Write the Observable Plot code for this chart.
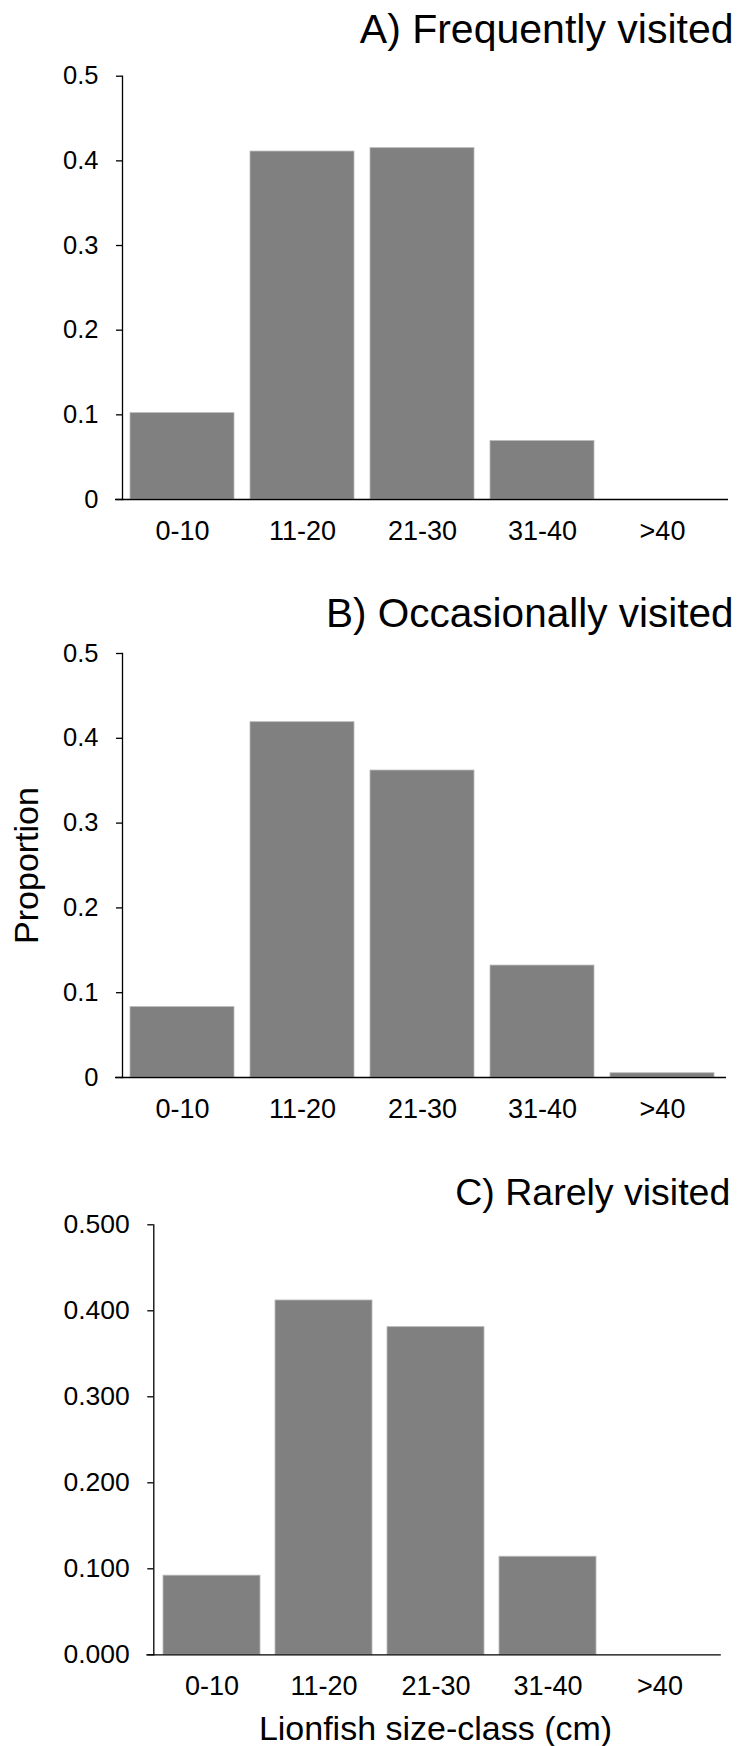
<!DOCTYPE html>
<html>
<head>
<meta charset="utf-8">
<script src="https://cdn.jsdelivr.net/npm/d3@7"></script>
<script src="https://cdn.jsdelivr.net/npm/@observablehq/plot@0.6"></script>
<style>
  html, body { margin: 0; padding: 0; background: #fff; }
  #wrap { position: relative; width: 742px; height: 1746px; background: #fff; }
  .panel { position: absolute; left: 0; }
</style>
</head>
<body>
<div id="wrap"></div>
<script>
// ---- data ----
const sizeClasses = ["0-10", "11-20", "21-30", "31-40", ">40"];
const frequentlyVisited = [0.102, 0.411, 0.415, 0.069, 0];
const occasionallyVisited = [0.083, 0.419, 0.362, 0.132, 0.005];
const rarelyVisited = [0.092, 0.412, 0.381, 0.114, 0];
const panelTitles = ["A) Frequently visited", "B) Occasionally visited", "C) Rarely visited"];
const yTicks = [0, 0.1, 0.2, 0.3, 0.4, 0.5];
const yLabel = "Proportion";
const xLabel = "Lionfish size-class (cm)";

// ---- layout ----
const FONT = "'Liberation Sans', Arial, Helvetica, sans-serif";
const panels = [
  {values: frequentlyVisited, title: panelTitles[0], top: 0, height: 560, mt: 75.7, mb: 61, ml: 122, mr: 20,
   fmt: d => String(d), yFont: 25.5, titleFont: 41, titleDy: -33, titleDx: 11, yLab: false, xLab: false, ir: -6},
  {values: occasionallyVisited, title: panelTitles[1], top: 560, height: 580, mt: 93, mb: 63, ml: 122, mr: 20,
   fmt: d => String(d), yFont: 25.5, titleFont: 40.5, titleDy: -27, titleDx: 11, yLab: true, xLab: false, ir: -4},
  {values: rarelyVisited, title: panelTitles[2], top: 1140, height: 606, mt: 84.3, mb: 91.7, ml: 153.3, mr: 25.2,
   fmt: d => d.toFixed(3), yFont: 26.5, titleFont: 37.5, titleDy: -19.5, titleDx: 13, yLab: false, xLab: true, ir: -4}
];

const wrap = document.getElementById("wrap");
for (const p of panels) {
  const data = sizeClasses.map((c, i) => ({size: c, value: p.values[i]}));
  const marks = [
    Plot.barY(data, {x: "size", y: "value", fill: "#808080", stroke: "#b8b8b8", strokeWidth: 0.8}),
    Plot.ruleY([0], {stroke: "black", strokeWidth: 1.3, insetLeft: -7, insetRight: p.ir}),
    Plot.frame({anchor: "left", stroke: "black", strokeWidth: 1.3}),
    Plot.axisY({ticks: yTicks, tickFormat: p.fmt, tickSize: 6, tickPadding: 18, fontSize: p.yFont, label: null, stroke: "black", strokeWidth: 1.3}),
    Plot.axisX({tickSize: 0, tickPadding: 21, fontSize: 27, label: null}),
    Plot.text([p.title], {frameAnchor: "top-right", textAnchor: "end", lineAnchor: "bottom", dx: p.titleDx, dy: p.titleDy, fontSize: p.titleFont, fill: "black"})
  ];
  if (p.yLab) marks.push(Plot.text([yLabel], {frameAnchor: "left", rotate: -90, dx: -95, textAnchor: "middle", lineAnchor: "middle", fontSize: 34, fill: "black"}));
  if (p.xLab) marks.push(Plot.text([xLabel], {frameAnchor: "bottom", textAnchor: "middle", lineAnchor: "bottom", dy: 84.7, fontSize: 34, fill: "black"}));

  const chart = Plot.plot({
    width: 742,
    height: p.height,
    marginTop: p.mt,
    marginBottom: p.mb,
    marginLeft: p.ml,
    marginRight: p.mr,
    style: {fontFamily: FONT, background: "white", color: "black", overflow: "visible"},
    x: {type: "band", domain: sizeClasses, paddingInner: 0.135, paddingOuter: 0.0675, align: 0.5},
    y: {domain: [0, 0.5]},
    marks
  });
  const div = document.createElement("div");
  div.className = "panel";
  div.style.top = p.top + "px";
  div.appendChild(chart);
  wrap.appendChild(div);
}
</script>
</body>
</html>
